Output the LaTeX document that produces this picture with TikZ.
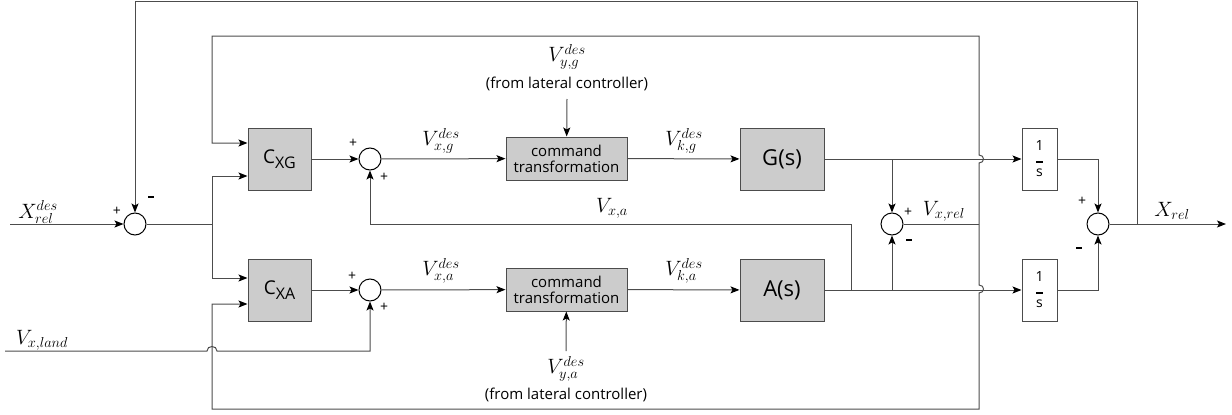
\documentclass[tikz,border=0pt]{standalone}
\usepackage{fontspec}
\setmainfont{Open Sans}
\usetikzlibrary{arrows.meta,calc}
\begin{document}
\begin{tikzpicture}[x=1pt,y=-1pt,
        wire/.style={draw=black!70,line width=1pt},
        arr/.style={wire,-{Stealth[length=9pt,width=7pt,inset=2pt,color=black]}},
        blk/.style={draw=black!70,line width=1pt,fill=black!20,minimum width=63pt,minimum height=62pt,inner sep=0pt,font=\fontsize{19}{22}\selectfont},
        ctbox/.style={draw=black!70,line width=1pt,fill=black!20,minimum width=121pt,minimum height=43pt,inner sep=0pt,align=center,font=\fontsize{15}{16}\selectfont},
        intbox/.style={draw=black!70,line width=1pt,fill=white,minimum width=35pt,minimum height=62pt,inner sep=0pt,align=center,font=\fontsize{14}{16}\selectfont},
        sum/.style={circle,draw=black,line width=1pt,fill=white,minimum size=22pt,inner sep=0pt},
        lbl/.style={inner sep=0pt,font=\fontsize{21}{24}\selectfont},
        sgn/.style={inner sep=0pt,font=\fontsize{14}{15}\selectfont},
        note/.style={inner sep=0pt,font=\fontsize{15}{17}\selectfont}]
        \useasboundingbox (0,0) rectangle (1232,415);

        \node[sum] (sumin) at (135,224) {};
        \node[blk] (cxg) at (279.5,159) {C\raisebox{-5pt}{\fontsize{16}{16}\selectfont XG}};
        \node[blk] (cxa) at (279.5,290) {C\raisebox{-5pt}{\fontsize{16}{16}\selectfont XA}};
        \node[sum] (sumg) at (370,159) {};
        \node[sum] (suma) at (370,290) {};
        \node[ctbox] (ctg) at (566.5,158.5) {command\\transformation};
        \node[ctbox] (cta) at (566.5,289.5) {command\\transformation};
        \node[blk,minimum width=84pt,font=\fontsize{22}{24}\selectfont] (gs) at (782,159) {G(s)};
        \node[blk,minimum width=84pt,font=\fontsize{22}{24}\selectfont] (as) at (782,290) {A(s)};
        \node[sum] (sumrel) at (892,224) {};
        \node[intbox] (intg) at (1039.5,159) {1\\[-4pt]\rule{7pt}{2.2pt}\\[-2pt]s};
        \node[intbox] (inta) at (1039.5,290) {1\\[-4pt]\rule{7pt}{2.2pt}\\[-2pt]s};
        \node[sum] (sumout) at (1098,224) {};

        \coordinate (xin) at (10,224);
        \coordinate (vland) at (5,351);
        \coordinate (br) at (212,224);
        \coordinate (top) at (135,1.5);
        \coordinate (xbr) at (1137,224);
        \coordinate (xout) at (1226,224);
        \coordinate (fb) at (979,224);
        \coordinate (vxa) at (851,224);
        \coordinate (vyg) at (567,99);
        \coordinate (vya) at (566,351);

        \node[lbl] (lxin) at (38,212) {$X_{rel}^{des}$};
        \node[sgn] (pin) at (117,211) {+};
        \node[sgn] (min) at (151,197) {\rule{6pt}{2.4pt}};
        \node[lbl] (lvland) at (42,340) {$V_{x,land}$};
        \node[sgn] (pg1) at (353,143) {+};
        \node[sgn] (pg2) at (384,177) {+};
        \node[sgn] (pa1) at (352,276) {+};
        \node[sgn] (pa2) at (384,307) {+};
        \node[lbl] (lvxg) at (441,141) {$V_{x,g}^{des}$};
        \node[lbl] (lvkg) at (684,141) {$V_{k,g}^{des}$};
        \node[lbl] (lvyg) at (567,57) {$V_{y,g}^{des}$};
        \node[note] (nyg) at (567,84) {(from lateral controller)};
        \node[lbl] (lvxa0) at (612,208) {$V_{x,a}$};
        \node[lbl] (lvxa) at (441,271) {$V_{x,a}^{des}$};
        \node[lbl] (lvka) at (684,271) {$V_{k,a}^{des}$};
        \node[lbl] (lvya) at (566,369) {$V_{y,a}^{des}$};
        \node[note] (nya) at (566,395) {(from lateral controller)};
        \node[sgn] (prel) at (908,212) {+};
        \node[sgn] (mrel) at (909,240) {\rule{6pt}{2.4pt}};
        \node[lbl] (lvrel) at (944,211) {$V_{x,rel}$};
        \node[sgn] (pout) at (1082,201) {+};
        \node[sgn] (mout) at (1079,248) {\rule{6pt}{2.4pt}};
        \node[lbl] (lxrel) at (1172,211) {$X_{rel}$};

        \draw[arr] (xin) -- (sumin);
        \draw[wire] (sumin) -- (br);
        \draw[arr] (br) |- ($(cxg.west)+(0,17)$);
        \draw[arr] (br) |- ($(cxa.west)+(0,-12)$);
        \draw[arr] (cxg) -- (sumg);
        \draw[arr] (cxa) -- (suma);
        \draw[arr] (sumg) -- (ctg);
        \draw[arr] (suma) -- (cta);
        \draw[arr] (ctg) -- (gs);
        \draw[arr] (cta) -- (as);
        \draw[arr] (vyg) -- (ctg);
        \draw[arr] (vya) -- (cta);
        \draw[arr] (gs) -- (intg);
        \draw[arr] (as) -- (inta);
        \draw[arr] (gs.east -| sumrel) -- (sumrel);
        \draw[arr] (as.east -| sumrel) -- (sumrel);
        \draw[wire] (as.east -| vxa) -- (vxa);
        \draw[arr] (vxa) -| (sumg);
        \draw[wire] (sumrel) -- (fb);
        \draw[arr] (fb) -- (979,163) .. controls (985,163) and (985,155) .. (979,155) |- (212,36) |- ($(cxg.west)+(0,-16)$);
        \draw[arr] (fb) -- (979,285) .. controls (985,285) and (985,293) .. (979,293) |- (212,409) |- ($(cxa.west)+(0,14)$);
        \draw[arr] (vland) -- (207,351) .. controls (207,345) and (217,345) .. (217,351) -| (suma);
        \draw[arr] (intg) -| (sumout);
        \draw[arr] (inta) -| (sumout);
        \draw[arr] (sumout) -- (xout);
        \draw[arr] (xbr) |- (top) -- (sumin);
    \end{tikzpicture}
\end{document}
